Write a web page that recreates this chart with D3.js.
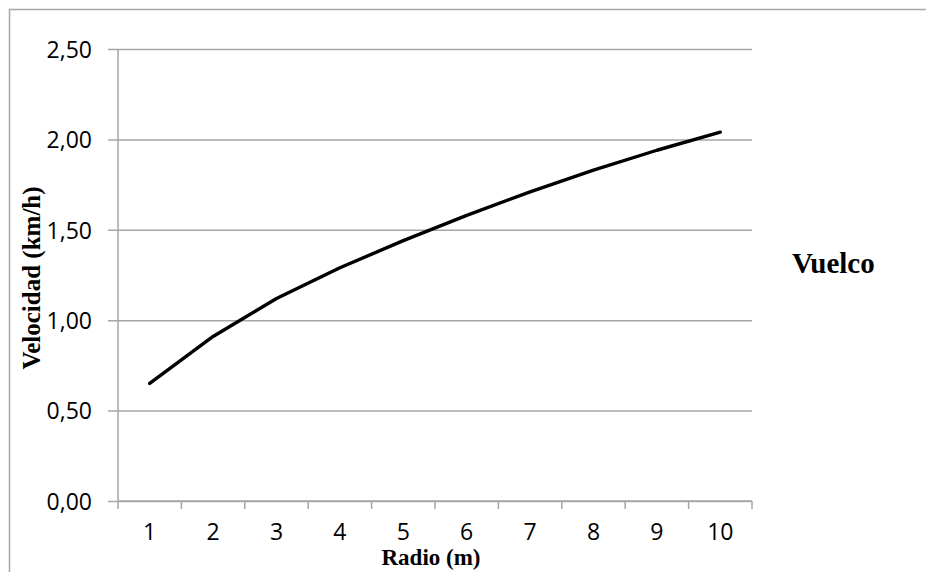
<!DOCTYPE html>
<html lang="es">
  <head>
    <meta charset="UTF-8" />
    <title>Vuelco</title>
    <style>
      body { margin: 0; background: #fff; }
      svg { display: block; }
      .tick text { font-family: "Open Sans", "Liberation Sans", sans-serif; font-size: 23px; fill: #000; }
      .axis-title { font-family: "Liberation Serif", "DejaVu Serif", serif; font-weight: bold; font-size: 25px; }
    </style>
  </head>
  <body>
    <div id="chart"></div>
    <script src="https://cdnjs.cloudflare.com/ajax/libs/d3/7.8.5/d3.min.js"></script>
    <script>
      // radio (m) vs velocidad (km/h)
      var radios = [1, 2, 3, 4, 5, 6, 7, 8, 9, 10];
      var velocidades = [0.65, 0.91, 1.12, 1.29, 1.44, 1.58, 1.71, 1.83, 1.94, 2.04];
      var yTicks = [0, 0.5, 1, 1.5, 2, 2.5];

      var width = 926, height = 572;
      var margin = { top: 49, right: 174, bottom: 71, left: 118 };
      var innerW = width - margin.left - margin.right;
      var innerH = height - margin.top - margin.bottom;

      var svg = d3.select("#chart").append("svg")
        .attr("width", width)
        .attr("height", height);

      // chart area frame
      svg.append("rect")
        .attr("x", 9.5).attr("y", 9.5)
        .attr("width", width + 20).attr("height", height + 20)
        .attr("fill", "none")
        .attr("stroke", "#a6a6a6")
        .attr("stroke-width", 1.5);

      var g = svg.append("g")
        .attr("transform", "translate(" + margin.left + "," + margin.top + ")");

      var x = d3.scaleBand().domain(radios).range([0, innerW]);
      var y = d3.scaleLinear().domain([0, 2.5]).range([innerH, 0]);

      var fmt = function (d) { return d3.format(".2f")(d).replace(".", ","); };

      // y axis with gridlines
      var yAxis = g.append("g")
        .call(d3.axisLeft(y).tickValues(yTicks).tickFormat(fmt).tickSize(-innerW).tickPadding(26));
      yAxis.select(".domain").remove();
      yAxis.selectAll(".tick line")
        .attr("x1", -10)
        .attr("stroke", "#a6a6a6")
        .attr("stroke-width", 1.5);
      yAxis.selectAll(".tick text").attr("dy", "0.36em");

      g.append("line")
        .attr("x1", 0).attr("x2", 0)
        .attr("y1", 0).attr("y2", innerH)
        .attr("stroke", "#a6a6a6")
        .attr("stroke-width", 1.5);

      // x axis, ticks on band edges
      var xAxis = g.append("g")
        .attr("transform", "translate(0," + innerH + ")")
        .call(d3.axisBottom(x).tickSize(0).tickPadding(23));
      xAxis.select(".domain").remove();
      xAxis.selectAll(".tick line").remove();
      var edges = radios.map(function (d) { return x(d); }).concat([innerW]);
      xAxis.selectAll(".edge").data(edges).enter().append("line")
        .attr("x1", function (d) { return d; })
        .attr("x2", function (d) { return d; })
        .attr("y1", 0).attr("y2", 8)
        .attr("stroke", "#a6a6a6")
        .attr("stroke-width", 1.5);
      xAxis.append("line")
        .attr("x1", 0).attr("x2", innerW)
        .attr("stroke", "#a6a6a6")
        .attr("stroke-width", 1.5);

      // series line
      var line = d3.line()
        .x(function (d, i) { return x(radios[i]) + x.bandwidth() / 2; })
        .y(function (d) { return y(d); });
      g.append("path")
        .datum(velocidades)
        .attr("d", line)
        .attr("fill", "none")
        .attr("stroke", "#000")
        .attr("stroke-width", 3.4)
        .attr("stroke-linejoin", "round")
        .attr("stroke-linecap", "round");

      // titles
      svg.append("text")
        .attr("class", "axis-title")
        .style("font-size", "23px")
        .attr("x", margin.left + innerW / 2 - 4)
        .attr("y", 565)
        .attr("text-anchor", "middle")
        .text("Radio (m)");

      svg.append("text")
        .attr("class", "axis-title")
        .attr("transform", "translate(40," + (margin.top + innerH / 2 + 3) + ") rotate(-90)")
        .attr("text-anchor", "middle")
        .text("Velocidad (km/h)");

      svg.append("text")
        .attr("class", "axis-title")
        .style("font-size", "29px")
        .attr("x", 792)
        .attr("y", 273)
        .text("Vuelco");
    </script>
  </body>
</html>
